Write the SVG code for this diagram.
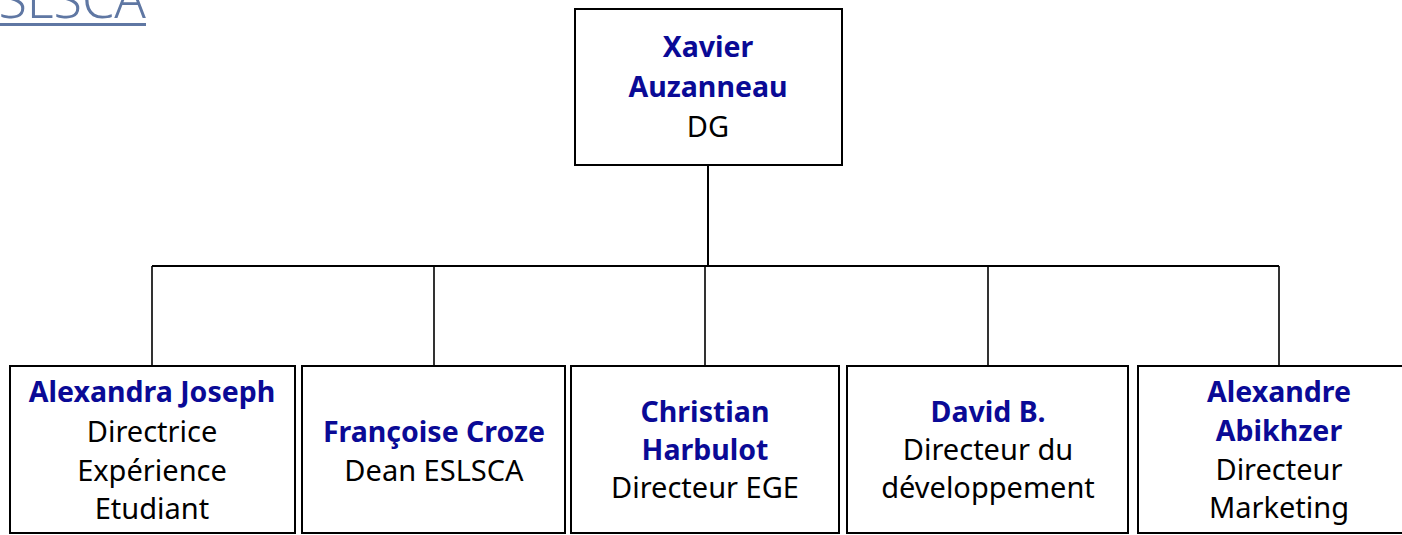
<svg xmlns="http://www.w3.org/2000/svg" width="1402" height="535" viewBox="0 0 1402 535">
<style>
.box{fill:#fff;stroke:#000;stroke-width:2}
.conn{fill:none;stroke:#000;stroke-width:2}
.drop{fill:none;stroke:#000;stroke-width:1.6}
text{font-family:"Noto Sans","Open Sans",sans-serif;font-size:29px;text-anchor:middle}
.name{fill:#0A0A96;font-weight:bold;font-size:28.5px}
.role{fill:#000}
.title{fill:#5F77A3;font-size:52px;text-anchor:end;font-weight:300}
</style>
<rect width="1402" height="535" fill="#fff"/>
<g id="title">
<text class="title" x="146" y="18">ESLSCA</text>
<rect x="0" y="23" width="146" height="3" fill="#5F77A3"/>
</g>
<g id="connectors">
<path class="conn" d="M708 165V266M152 266H1279"/>
<path class="drop" d="M152 266V366M434 266V366M705 266V366M988 266V366M1279 266V366"/>
</g>
<g id="n-xavier">
<rect class="box" x="575" y="9" width="267" height="156"/>
<text class="name" x="708" y="57">Xavier</text>
<text class="name" x="708" y="97">Auzanneau</text>
<text class="role" x="708" y="137">DG</text>
</g>
<g id="n-alexandra">
<rect class="box" x="10" y="366" width="285" height="167"/>
<text class="name" x="152" y="402">Alexandra Joseph</text>
<text class="role" x="152" y="442">Directrice</text>
<text class="role" x="152" y="481">Expérience</text>
<text class="role" x="152" y="519">Etudiant</text>
</g>
<g id="n-francoise">
<rect class="box" x="302" y="366" width="263" height="167"/>
<text class="name" x="434" y="442">Françoise Croze</text>
<text class="role" x="434" y="481">Dean ESLSCA</text>
</g>
<g id="n-christian">
<rect class="box" x="571" y="366" width="268" height="167"/>
<text class="name" x="705" y="422">Christian</text>
<text class="name" x="705" y="460">Harbulot</text>
<text class="role" x="705" y="498">Directeur EGE</text>
</g>
<g id="n-david">
<rect class="box" x="847" y="366" width="281" height="167"/>
<text class="name" x="988" y="422">David B.</text>
<text class="role" x="988" y="460">Directeur du</text>
<text class="role" x="988" y="498">développement</text>
</g>
<g id="n-alexandre">
<rect class="box" x="1138" y="366" width="282" height="167"/>
<text class="name" x="1279" y="402">Alexandre</text>
<text class="name" x="1279" y="441">Abikhzer</text>
<text class="role" x="1279" y="480">Directeur</text>
<text class="role" x="1279" y="518">Marketing</text>
</g>
</svg>
